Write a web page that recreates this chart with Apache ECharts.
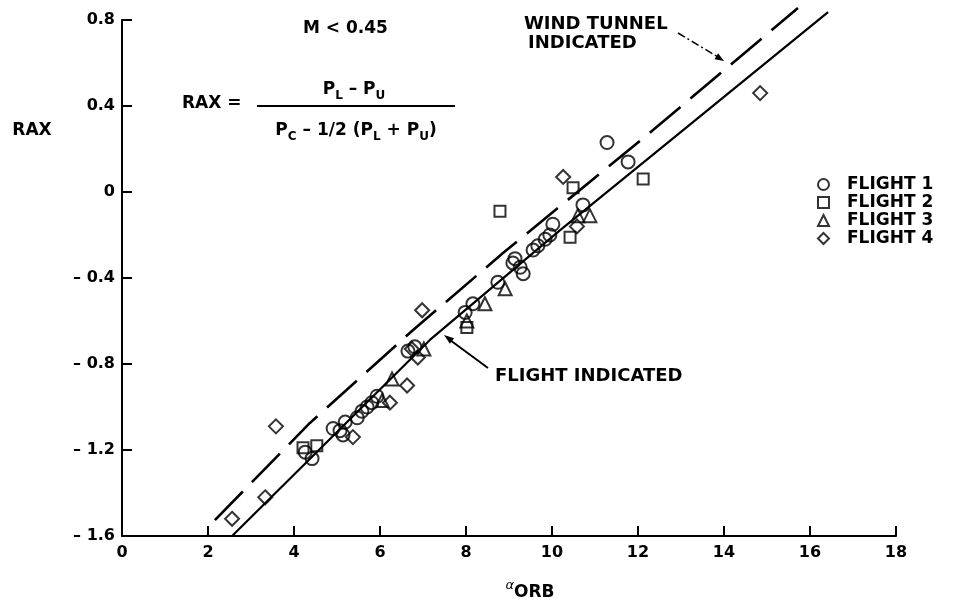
<!DOCTYPE html>
<html><head><meta charset="utf-8">
<script src="https://cdn.jsdelivr.net/npm/echarts@6/dist/echarts.min.js"></script>
<style>html,body{margin:0;padding:0;background:#fff}#c{width:957px;height:603px}</style>
</head><body><div id="c"></div>
<script>
// ---- data ----
const xTickLabels = ['0','2','4','6','8','10','12','14','16','18'];
const yTickLabels = ['– 1.6','– 1.2','– 0.8','– 0.4','0','0.4','0.8'];
const seriesNames = ['FLIGHT 1','FLIGHT 2','FLIGHT 3','FLIGHT 4'];
const flight1 = [[4.26,-1.21],[4.42,-1.24],[4.91,-1.10],[5.07,-1.11],[5.14,-1.13],[5.19,-1.07],[5.47,-1.05],[5.58,-1.02],[5.70,-1.00],[5.81,-0.98],[5.93,-0.95],[6.65,-0.74],[6.81,-0.72],[7.98,-0.56],[8.16,-0.52],[8.74,-0.42],[9.09,-0.33],[9.14,-0.31],[9.26,-0.35],[9.33,-0.38],[9.56,-0.27],[9.67,-0.25],[9.84,-0.22],[9.95,-0.20],[10.02,-0.15],[10.72,-0.06],[11.28,0.23],[11.77,0.14]];
const flight2 = [[4.21,-1.19],[4.53,-1.18],[8.02,-0.63],[8.79,-0.09],[10.42,-0.21],[10.49,0.02],[12.12,0.06]];
const flight3 = [[6.05,-0.97],[6.28,-0.87],[7.02,-0.73],[8.02,-0.60],[8.44,-0.52],[8.91,-0.45],[10.60,-0.11],[10.88,-0.11]];
const flight4 = [[2.56,-1.52],[3.33,-1.42],[3.58,-1.09],[5.37,-1.14],[6.23,-0.98],[6.63,-0.90],[6.74,-0.73],[6.88,-0.77],[6.98,-0.55],[10.26,0.07],[10.58,-0.16],[14.84,0.46]];
const flightIndicated = [[2.56,-1.60],[7.16,-0.688],[10.19,-0.177],[13.05,0.288],[16.42,0.837]];
const windTunnel = [[2.16,-1.526],[4.37,-1.074],[6.77,-0.642],[8.86,-0.284],[12.35,0.288],[15.72,0.856]];

const FF = '"DejaVu Sans", sans-serif';
const chart = echarts.init(document.getElementById('c'), null, {renderer:'canvas'});

function arrowHead(tx, ty, fx, fy, len, half){
  const dx = tx - fx, dy = ty - fy, L = Math.hypot(dx, dy);
  const ux = dx / L, uy = dy / L;
  const bx = tx - ux * len, by = ty - uy * len;
  return [[tx, ty],[bx - uy * half, by + ux * half],[bx + uy * half, by - ux * half]];
}

const markStyle = {color:'rgba(0,0,0,0)', borderColor:'#000', borderWidth:2};
const symbols = ['circle','rect','triangle','diamond'];
const sizes = [13, 11, 13, 14];
const flights = [flight1, flight2, flight3, flight4];

const option = {
  animation: false,
  backgroundColor: '#fff',
  grid: {left:122, right:61, top:20, bottom:67, containLabel:false, outerBoundsMode:'none'},
  xAxis: {
    type:'value', min:0, max:18, interval:2,
    axisLine:{show:true, onZero:false, lineStyle:{color:'#000', width:2}},
    axisTick:{show:true, inside:true, length:10, lineStyle:{color:'#000', width:2}},
    splitLine:{show:false},
    axisLabel:{color:'#000', fontFamily:FF, fontWeight:'bold', fontSize:16, margin:9,
      formatter: v => xTickLabels[Math.round(v/2)]}
  },
  yAxis: {
    type:'value', min:-1.6, max:0.8, interval:0.4,
    axisLine:{show:true, onZero:false, lineStyle:{color:'#000', width:2}},
    axisTick:{show:true, inside:true, length:10, lineStyle:{color:'#000', width:2}},
    splitLine:{show:false},
    axisLabel:{color:'#000', fontFamily:FF, fontWeight:'bold', fontSize:16, margin:7,
      formatter: v => yTickLabels[Math.round((v + 1.6) / 0.4)]}
  },
  legend: {
    orient:'vertical', left:812, top:171, itemWidth:11, itemHeight:11, itemGap:1,
    data: seriesNames,
    textStyle:{color:'#000', fontFamily:FF, fontWeight:'bold', fontSize:17, lineHeight:16, padding:[0,0,0,13]}
  },
  series: [
    {name:'WIND TUNNEL INDICATED', type:'line', data:windTunnel, symbol:'none', clip:false, silent:true, z:2,
      lineStyle:{color:'#000', width:2.6, type:[40,13]}},
    {name:'FLIGHT INDICATED', type:'line', data:flightIndicated, symbol:'none', clip:false, silent:true, z:2,
      lineStyle:{color:'#000', width:2.2}}
  ].concat(flights.map((d, i) => ({
    name: seriesNames[i], type:'scatter', data:d, symbol:symbols[i], symbolSize:sizes[i],
    itemStyle: markStyle, z:3
  }))),
  graphic: [
    {type:'text', style:{text:'M < 0.45', x:303, y:29, font:'bold 17px '+FF, fill:'#000', textAlign:'left', textVerticalAlign:'middle'}},
    {type:'text', style:{text:'RAX =', x:182, y:104, font:'bold 17px '+FF, fill:'#000', textAlign:'left', textVerticalAlign:'middle'}},
    {type:'line', shape:{x1:257, y1:106, x2:455, y2:106}, style:{stroke:'#000', lineWidth:2}},
    {type:'text', style:{text:'{p|P}{s|L}{p| – P}{s|U}', x:354, y:90, fill:'#000', textAlign:'center', textVerticalAlign:'middle',
      rich:{p:{font:'bold 17px '+FF, fill:'#000', lineHeight:24, verticalAlign:'middle'}, s:{font:'bold 12px '+FF, fill:'#000', lineHeight:13, verticalAlign:'bottom'}}}},
    {type:'text', style:{text:'{p|P}{s|C}{p| – 1/2 (P}{s|L}{p| + P}{s|U}{p|)}', x:356, y:131, fill:'#000', textAlign:'center', textVerticalAlign:'middle',
      rich:{p:{font:'bold 17px '+FF, fill:'#000', lineHeight:24, verticalAlign:'middle'}, s:{font:'bold 12px '+FF, fill:'#000', lineHeight:13, verticalAlign:'bottom'}}}},
    {type:'text', style:{text:'RAX', x:32, y:131, font:'bold 17px '+FF, fill:'#000', textAlign:'center', textVerticalAlign:'middle'}},
    {type:'text', style:{text:'{a|α}{b|ORB}', x:530, y:590, fill:'#000', textAlign:'center', textVerticalAlign:'middle',
      rich:{a:{font:'italic 13px '+FF, fill:'#000', lineHeight:22, verticalAlign:'top'}, b:{font:'bold 17px '+FF, fill:'#000', lineHeight:22, verticalAlign:'bottom'}}}},
    {type:'text', style:{text:'WIND TUNNEL', x:524, y:24, font:'bold 18px '+FF, fill:'#000', textAlign:'left', textVerticalAlign:'middle'}},
    {type:'text', style:{text:'INDICATED', x:528, y:43, font:'bold 18px '+FF, fill:'#000', textAlign:'left', textVerticalAlign:'middle'}},
    {type:'line', shape:{x1:678, y1:33, x2:718, y2:57}, style:{stroke:'#000', lineWidth:1.5, lineDash:[8,3,2,3]}},
    {type:'polygon', shape:{points:arrowHead(724,61,678,33,9,3.5)}, style:{fill:'#000'}},
    {type:'text', style:{text:'FLIGHT INDICATED', x:495, y:376, font:'bold 18px '+FF, fill:'#000', textAlign:'left', textVerticalAlign:'middle'}},
    {type:'line', shape:{x1:488, y1:368, x2:450, y2:340}, style:{stroke:'#000', lineWidth:2}},
    {type:'polygon', shape:{points:arrowHead(444,335,488,368,10,3.5)}, style:{fill:'#000'}}
  ]
};
chart.setOption(option);
</script></body></html>
